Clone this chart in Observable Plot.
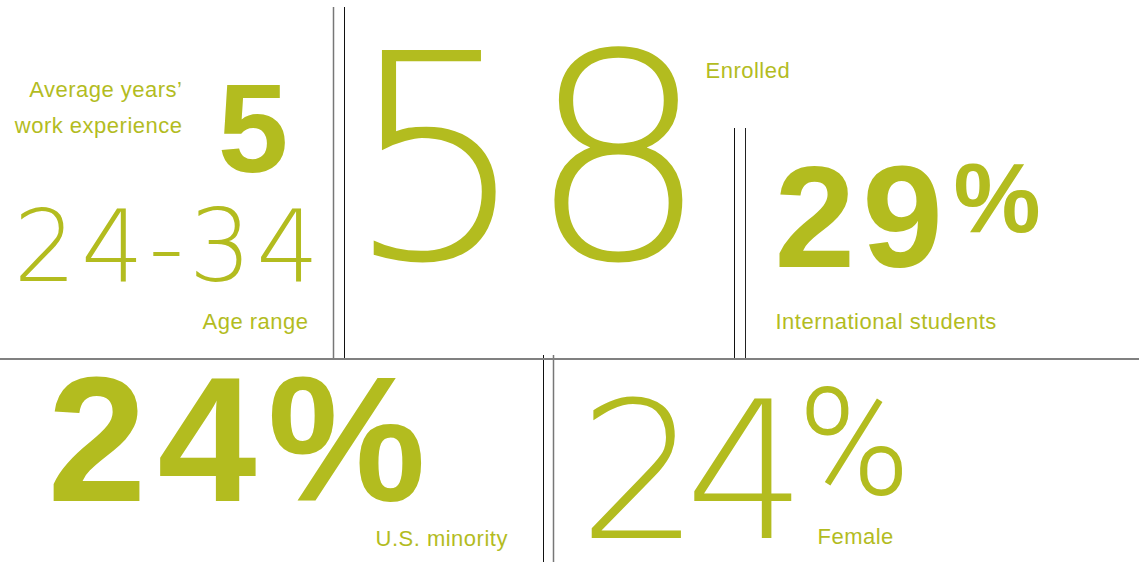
<!DOCTYPE html>
<html><head><meta charset="utf-8">
<script src="https://cdn.jsdelivr.net/npm/d3@7"></script>
<script src="https://cdn.jsdelivr.net/npm/@observablehq/plot@0.6"></script>
<style>html,body{margin:0;padding:0;background:#fff;overflow:hidden}</style>
</head><body><div id="chart"></div>
<script>
// ---- data ----
const statValues = ["5", "24-34", "58", "29%", "24%", "24%"];
const statLabels = ["Average years’\nwork experience", "Age range", "Enrolled", "International students", "U.S. minority", "Female"];
const statWeights = ["bold", "thin", "thin", "bold", "bold", "thin"];

// ---- layout ----
const W = 1139, H = 562;
const GREEN = "#b3bc1f";
const BOLD_FONT = "'Liberation Sans', Arial, Helvetica, sans-serif";
const THIN_FONT = "'DejaVu Sans', sans-serif";
const PCT_THIN_FONT = "Roboto, sans-serif";
const LABEL_FONT = "'Liberation Sans', Arial, Helvetica, sans-serif";

const figureLayout = [
  {x: 288, y: 171, size: 127, anchor: "end", ls: 0},
  {x: 13, y: 280, size: 99, anchor: "start", ls: 4.5},
  {x: 345, y: 258, size: 286, anchor: "start", ls: 0},
  {x: 774, y: 266, size: 145, anchor: "start", ls: 7, pct: {x: 953, y: 231, size: 98, weight: 700}},
  {x: 47, y: 500, size: 178, anchor: "start", ls: 11},
  {x: 578, y: 537, size: 191, anchor: "start", ls: -15, pct: {x: 798, y: 493, size: 150, weight: 300}}
];
const labelLayout = [
  {x: 182, y: 132, anchor: "end"},
  {x: 308, y: 328, anchor: "end"},
  {x: 705, y: 77, anchor: "start"},
  {x: 775, y: 328, anchor: "start"},
  {x: 375, y: 545, anchor: "start"},
  {x: 817, y: 543, anchor: "start"}
];
const dividerLayout = [
  {x: 333, y1: 7, y2: 358, stroke: "#777", w: 1.5},
  {x: 344, y1: 7, y2: 358, stroke: "#111", w: 1},
  {x: 734, y1: 128, y2: 358, stroke: "#111", w: 1},
  {x: 745, y1: 128, y2: 358, stroke: "#222", w: 1},
  {x: 543, y1: 355, y2: 562, stroke: "#111", w: 1},
  {x: 553, y1: 355, y2: 562, stroke: "#777", w: 1.5}
];

const marks = [];
const spacing = [];
for (const d of dividerLayout) {
  marks.push(Plot.ruleX([d], {x: "x", y1: "y1", y2: "y2", stroke: d.stroke, strokeWidth: d.w}));
}
marks.push(Plot.ruleY([358.5], {x1: 0, x2: W, stroke: "#808080", strokeWidth: 2}));

statValues.forEach((v, i) => {
  const L = figureLayout[i];
  const bold = statWeights[i] === "bold";
  const sup = L.pct && v.endsWith("%");
  const main = sup ? v.slice(0, -1) : v;
  const m = Plot.text([{x: L.x, y: L.y, t: main}], {
    x: "x", y: "y", text: "t", fontSize: L.size,
    fontWeight: bold ? 700 : 200, fontFamily: bold ? BOLD_FONT : THIN_FONT,
    textAnchor: L.anchor, lineAnchor: "bottom", fill: GREEN
  });
  spacing.push([marks.length, L.ls]);
  marks.push(m);
  if (sup) {
    marks.push(Plot.text([{x: L.pct.x, y: L.pct.y, t: "%"}], {
      x: "x", y: "y", text: "t", fontSize: L.pct.size,
      fontWeight: L.pct.weight, fontFamily: bold ? BOLD_FONT : PCT_THIN_FONT,
      textAnchor: "start", lineAnchor: "bottom", fill: GREEN
    }));
  }
});

const labelRows = statLabels.map((t, i) => ({t, ...labelLayout[i]}));
for (const anchor of ["start", "end"]) {
  spacing.push([marks.length, 0.5]);
  marks.push(Plot.text(labelRows.filter(d => d.anchor === anchor), {
    x: "x", y: "y", text: "t", fontSize: 22, lineHeight: 1.6,
    fontFamily: LABEL_FONT, fontWeight: 400,
    textAnchor: anchor, lineAnchor: "bottom", fill: GREEN
  }));
}

const chart = Plot.plot({
  width: W, height: H, margin: 0,
  x: {domain: [0, W], range: [0, W], axis: null},
  y: {domain: [0, H], range: [0, H], axis: null},
  style: {background: "#fff", overflow: "visible"},
  marks
});
const groups = Array.from(chart.children).filter(n => n.tagName.toLowerCase() === "g");
for (const [idx, ls] of spacing) {
  if (groups[idx] && ls) groups[idx].setAttribute("letter-spacing", ls);
}
document.getElementById("chart").appendChild(chart);
</script>
</body></html>
